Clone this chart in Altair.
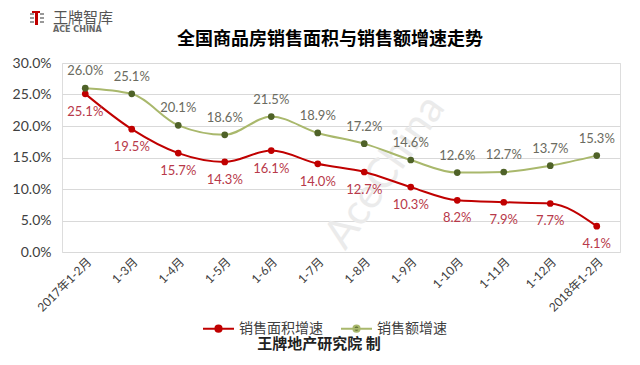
import altair as alt
import pandas as pd

categories = ["2017年1-2月", "1-3月", "1-4月", "1-5月", "1-6月", "1-7月", "1-8月",
              "1-9月", "1-10月", "1-11月", "1-12月", "2018年1-2月"]
area_growth = [25.1, 19.5, 15.7, 14.3, 16.1, 14.0, 12.7, 10.3, 8.2, 7.9, 7.7, 4.1]
amount_growth = [26.0, 25.1, 20.1, 18.6, 21.5, 18.9, 17.2, 14.6, 12.6, 12.7, 13.7, 15.3]
series_names = ["销售面积增速", "销售额增速"]
line_colors = ["#c00000", "#a9b86c"]
point_colors = ["#c00000", "#4f6228"]
label_colors = ["#b8394a", "#6b6b60"]
y_ticks = [0, 0.05, 0.10, 0.15, 0.20, 0.25, 0.30]
title_text = "全国商品房销售面积与销售额增速走势"
footer_text = "王牌地产研究院 制"

FONT = "Lato, Noto Sans CJK SC"
CJK = "Noto Sans CJK SC"

rows = []
for i, c in enumerate(categories):
    rows.append({"month": c, "series": series_names[0], "value": area_growth[i] / 100})
    rows.append({"month": c, "series": series_names[1], "value": amount_growth[i] / 100})
df = pd.DataFrame(rows)

legend_path = "M-1,0H1M0.2,0A0.2,0.2,0,1,1,-0.2,0A0.2,0.2,0,1,1,0.2,0Z"


def make_legend():
    return alt.Legend(orient="none", legendX=140, legendY=249,
                      direction="horizontal", title=None,
                      symbolType=legend_path, symbolSize=961,
                      symbolStrokeWidth=2, labelFontSize=14,
                      labelColor="#404040", labelFont=CJK,
                      columnPadding=14, labelOffset=4, padding=0)


base = alt.Chart(df).encode(
    x=alt.X("month:N", sort=categories, title=None,
            axis=alt.Axis(labelAngle=-45, labelFontSize=12, labelColor="#404040",
                          labelFont=FONT, domain=False, ticks=False, grid=False,
                          labelPadding=4)),
    y=alt.Y("value:Q", scale=alt.Scale(domain=[0, 0.3]), title=None,
            axis=alt.Axis(format=".1%", values=y_ticks, labelFontSize=14,
                          labelColor="#404040", labelFont=FONT, domain=False,
                          ticks=False, gridColor="#d9d9d9", labelPadding=11)),
)

lines = base.mark_line(interpolate="monotone", strokeWidth=2).encode(
    color=alt.Color("series:N", scale=alt.Scale(domain=series_names, range=line_colors),
                    legend=make_legend())
)

points = base.mark_circle(size=45, opacity=1).encode(
    fill=alt.Fill("series:N", scale=alt.Scale(domain=series_names, range=point_colors),
                  legend=make_legend())
)

red_labels = base.transform_filter(alt.datum.series == series_names[0]).mark_text(
    dy=18, fontSize=13, font=FONT, color=label_colors[0]
).encode(text=alt.Text("value:Q", format=".1%"))

green_labels = base.transform_filter(alt.datum.series == series_names[1]).mark_text(
    dy=-17, fontSize=13, font=FONT, color=label_colors[1]
).encode(text=alt.Text("value:Q", format=".1%"))

watermark = alt.Chart(pd.DataFrame({"t": ["AceChina"]})).mark_text(
    angle=305, fontSize=42, font="Lato", color="#ebebeb"
).encode(text="t:N", x=alt.value(323), y=alt.value(109))

title = alt.Chart(pd.DataFrame({"t": [title_text]})).mark_text(
    fontSize=18, font=CJK, fontWeight="bold", color="#000000"
).encode(text="t:N", x=alt.value(268), y=alt.value(-23))

footer = alt.Chart(pd.DataFrame({"t": [footer_text]})).mark_text(
    fontSize=15, font=CJK, fontWeight="bold", color="#222222"
).encode(text="t:N", x=alt.value(257), y=alt.value(281))

logo_cn = alt.Chart(pd.DataFrame({"t": ["王牌智库"]})).mark_text(
    fontSize=15, font=CJK, color="#555555", align="left"
).encode(text="t:N", x=alt.value(-9), y=alt.value(-45))

logo_en = alt.Chart(pd.DataFrame({"t": ["ACE CHINA"]})).mark_text(
    fontSize=8, font="DejaVu Sans", fontWeight="bold", color="#666666", align="left"
).encode(text="t:N", x=alt.value(-9), y=alt.value(-33))

gray_df = pd.DataFrame({
    "x": [-32, -32, -32, -22, -22, -22],
    "x2": [-28, -28, -28, -18, -18, -18],
    "y": [-50, -46, -42, -50, -46, -42],
    "y2": [-48, -44, -40, -48, -44, -40],
})
red_df = pd.DataFrame({
    "x": [-27, -30],
    "x2": [-24, -22],
    "y": [-52, -52],
    "y2": [-38, -50],
})
icon_gray = alt.Chart(gray_df).mark_rect(color="#999999").encode(
    x=alt.X("x:Q", scale=None), x2="x2:Q",
    y=alt.Y("y:Q", scale=None), y2="y2:Q",
)
icon_red = alt.Chart(red_df).mark_rect(color="#c00000").encode(
    x=alt.X("x:Q", scale=None), x2="x2:Q",
    y=alt.Y("y:Q", scale=None), y2="y2:Q",
)

chart = alt.layer(
    watermark, lines, points, red_labels, green_labels, title, footer,
    logo_cn, logo_en, icon_gray, icon_red
).properties(
    width=558, height=189,
    autosize=alt.AutoSizeParams(type="none"),
    padding={"left": 54, "top": 55, "right": 12, "bottom": 100},
).configure_view(stroke=None).configure(background="white")

chart.save("out.html", embed_options={"renderer": "svg", "actions": False})
